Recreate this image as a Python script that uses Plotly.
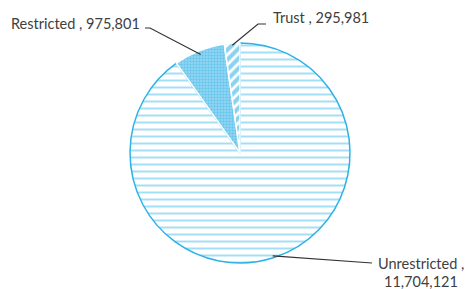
import math
import plotly.graph_objects as go

labels = ["Unrestricted", "Restricted", "Trust"]
values = [11704121, 975801, 295981]
label_text = ["Unrestricted ,", "Restricted , 975,801", "Trust , 295,981"]

W, H = 467, 289
cx, cy, R = 240, 153, 110  # pie centre / radius in pixels

BLUE = "#2DB2E6"

fig = go.Figure(go.Pie(
    labels=labels, values=values, sort=False, direction="clockwise", rotation=0,
    textinfo="none", hoverinfo="label+value",
    domain=dict(x=[(cx - R) / W, (cx + R) / W], y=[(H - cy - R) / H, (H - cy + R) / H]),
    marker=dict(
        colors=["white", "white", "white"],
        line=dict(color=[BLUE, "white", "white"], width=[1.5, 1.5, 1.5]),
        pattern=dict(
            shape=["-", ".", "/"],
            fgcolor=["#45BDEB", "#33B3E6", "#17A6E0"],
            bgcolor=["white", "#98D8F3", "white"],
            size=[7, 3, 7],
            solidity=[0.28, 0.5, 0.6],
            fillmode="overlay",
        ),
    ),
))

total = sum(values)
cum = 0
mids = []
for v in values:
    mids.append(360 * (cum + v / 2) / total)
    cum += v


def edge_point(angle_deg, r):
    a = math.radians(angle_deg)
    return cx + r * math.sin(a), cy - r * math.cos(a)


def px(x, y):
    return x / W, 1 - y / H


shapes = []
leaders = [
    (mids[0], 108, [(372, 263)]),
    (mids[1], 106, [(150, 28), (145, 28)]),
    (mids[2], 108, [(258, 24), (266, 24)]),
]
for ang, r, pts in leaders:
    x0, y0 = edge_point(ang, r)
    path = "M %f %f" % px(x0, y0)
    for (x, y) in pts:
        path += " L %f %f" % px(x, y)
    shapes.append(dict(type="path", xref="paper", yref="paper", path=path,
                       line=dict(color="#333333", width=1.2)))

font = dict(family="Lato", size=14.5, color="#404040")
annotations = [
    dict(text=label_text[1], x=142 / W, y=1 - 24 / H, xanchor="right", yanchor="middle"),
    dict(text=label_text[2], x=271 / W, y=1 - 18 / H, xanchor="left", yanchor="middle"),
    dict(text=label_text[0], x=421 / W, y=1 - 263 / H, xanchor="center", yanchor="middle"),
    dict(text=f"{values[0]:,}", x=421 / W, y=1 - 281 / H, xanchor="center", yanchor="middle"),
]
for a in annotations:
    a.update(xref="paper", yref="paper", showarrow=False, font=font)

fig.update_layout(
    width=W, height=H, margin=dict(l=0, r=0, t=0, b=0),
    paper_bgcolor="white", plot_bgcolor="white", showlegend=False,
    shapes=shapes, annotations=annotations,
)
fig.write_html("out.html", config={"displayModeBar": False},
               post_script="document.body.style.margin='0';")
